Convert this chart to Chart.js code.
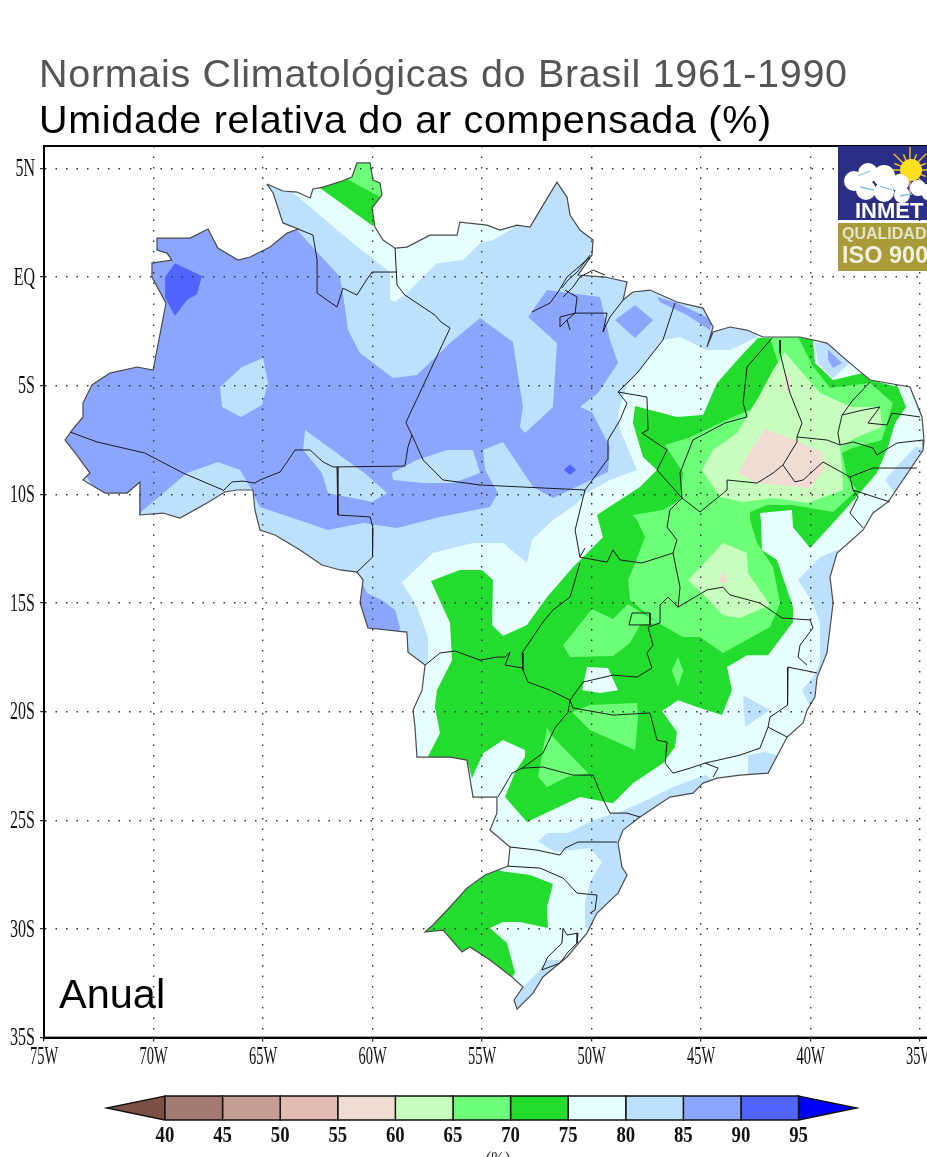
<!DOCTYPE html>
<html><head><meta charset="utf-8">
<style>html,body{margin:0;padding:0;background:#fff;width:927px;height:1157px;overflow:hidden}
canvas{position:absolute;left:0;filter:blur(0.45px)}</style>
<script src="https://cdn.jsdelivr.net/npm/chart.js@4"></script>
</head><body>
<canvas id="map" width="940" height="1157" style="top:0"></canvas>
<canvas id="bar" width="927" height="67" style="top:1090px"></canvas>
<script>
const titleMain='Normais Climatológicas do Brasil 1961-1990';
const titleSub='Umidade relativa do ar compensada (%)';
const periodLabel='Anual';
const unitLabel='(%)';
const lonTickLabels={'-75':'75W','-70':'70W','-65':'65W','-60':'60W','-55':'55W','-50':'50W','-45':'45W','-40':'40W','-35':'35W'};
const latTickLabels={'5':'5N','0':'EQ','-5':'5S','-10':'10S','-15':'15S','-20':'20S','-25':'25S','-30':'30S','-35':'35S'};
const levels=[40,45,50,55,60,65,70,75,80,85,90,95];
const levelColors=['#a37b72','#c59d93','#e0bcb2','#f0dcd2','#c8ffbe','#6eff78','#23dc2d','#e6ffff','#bee0ff','#8ca5ff','#5064ff'];
const underColor='#7d5046', overColor='#0000ff';

const brazil=[[-64.82,4.28],[-64.09,3.96],[-63.45,3.91],[-62.85,3.64],[-62.72,4.05],[-62.26,4.14],[-61.39,4.42],[-60.94,4.60],[-60.71,5.25],[-60.11,5.25],[-59.98,4.46],[-59.66,4.33],[-59.57,3.77],[-60.02,3.18],[-59.89,2.30],[-59.52,1.70],[-58.97,1.33],[-58.43,1.38],[-57.38,1.93],[-56.14,1.93],[-56.01,2.53],[-54.77,2.39],[-54.18,2.16],[-53.40,2.39],[-52.81,2.30],[-52.35,3.08],[-51.58,4.37],[-51.12,3.68],[-50.98,2.85],[-50.53,2.16],[-49.93,1.70],[-49.98,1.01],[-50.62,0.09],[-49.38,0],[-48.38,-0.23],[-48.56,-1.06],[-48.11,-0.69],[-47.33,-0.60],[-46.10,-1.15],[-44.91,-1.43],[-44.45,-2.30],[-44.73,-3.22],[-44.45,-2.53],[-43.68,-2.30],[-42.90,-2.44],[-42.17,-2.76],[-40.48,-2.76],[-39.25,-3.04],[-38.20,-3.96],[-37.28,-4.74],[-35.46,-5.06],[-34.91,-6.44],[-34.82,-7.50],[-34.86,-7.96],[-35.78,-9.34],[-36.46,-10.35],[-37.15,-10.86],[-37.60,-11.64],[-38.79,-12.70],[-39.11,-13.81],[-38.97,-15.00],[-39.25,-17.30],[-39.70,-18.41],[-39.80,-19.33],[-40.16,-19.93],[-40.34,-20.52],[-41.07,-21.17],[-41.94,-22.83],[-43.22,-22.92],[-44.27,-23.06],[-44.91,-23.29],[-45.37,-23.75],[-46.42,-23.93],[-47.79,-24.85],[-48.56,-25.45],[-48.79,-26.05],[-48.61,-27.15],[-48.38,-27.52],[-48.79,-28.35],[-49.75,-29.27],[-50.21,-30.19],[-51.12,-31.29],[-52.22,-32.21],[-52.67,-32.95],[-53.40,-33.69],[-53.54,-33.27],[-53.13,-32.67],[-53.63,-32.21],[-54.64,-31.43],[-55.55,-30.83],[-55.91,-31.06],[-56.78,-30.05],[-57.60,-30.14],[-57.24,-29.82],[-56.46,-28.99],[-55.69,-28.12],[-54.86,-27.52],[-53.81,-27.11],[-53.72,-26.23],[-54.64,-25.45],[-54.32,-24.67],[-54.32,-23.93],[-55.41,-23.93],[-55.69,-22.23],[-56.46,-22.09],[-57.97,-22.09],[-58.06,-20.71],[-58.15,-19.93],[-57.74,-19.01],[-57.60,-17.86],[-58.38,-17.26],[-58.43,-16.34],[-60.21,-16.15],[-60.57,-15.00],[-60.43,-13.94],[-60.71,-13.58],[-61.48,-13.48],[-62.31,-13.25],[-63.31,-12.56],[-64.45,-11.87],[-65.14,-11.64],[-65.37,-10.72],[-65.46,-9.80],[-66.19,-9.80],[-66.74,-9.89],[-67.56,-10.40],[-68.79,-11.09],[-69.57,-10.86],[-70.66,-10.95],[-70.62,-9.43],[-71.21,-9.94],[-72.21,-9.94],[-73.22,-9.34],[-72.90,-9.02],[-73.68,-7.96],[-74.04,-7.50],[-73.72,-7.04],[-73.22,-6.44],[-73.22,-5.80],[-72.81,-4.97],[-71.99,-4.42],[-70.75,-4.14],[-70.02,-4.28],[-69.43,-1.20],[-70.07,0],[-70.07,0.64],[-69.16,0.78],[-69.38,1.10],[-69.84,1.24],[-69.84,1.79],[-68.33,1.79],[-67.51,2.21],[-67.06,1.33],[-66.14,0.78],[-65.59,0.92],[-64.68,1.38],[-63.90,2.02],[-63.40,2.21],[-64.09,2.49],[-64.54,3.87],[-64.82,4.28]];

const band75a=brazil;
const band80Main=[[-64.82,4.92],[-63.77,4.00],[-60.89,1.56],[-59.20,0.23],[-59.20,-1.06],[-58.97,-1.15],[-58.43,-0.74],[-57.06,0.64],[-55.87,0.78],[-55.09,1.56],[-54.50,1.70],[-53.59,2.25],[-53.27,4.92],[-42.31,4.92],[-42.31,-1.98],[-42.44,-2.76],[-43.68,-3.36],[-44.73,-3.36],[-45.96,-2.76],[-46.74,-2.90],[-47.79,-4.28],[-48.38,-4.97],[-48.79,-6.26],[-48.70,-7.04],[-47.92,-8.88],[-49.16,-9.34],[-50.21,-9.94],[-50.75,-10.49],[-51.76,-11.18],[-52.72,-12.10],[-52.95,-13.16],[-54.04,-12.24],[-55.41,-12.24],[-57.24,-12.70],[-58.65,-14.04],[-57.97,-15.19],[-57.47,-16.57],[-57.47,-17.76],[-58.74,-18.55],[-72.44,-18.55],[-75.5,-5.66],[-72.44,4.92]];
const band80East=[[-40.57,-13.94],[-39.89,-15.00],[-39.57,-15.92],[-39.57,-17.76],[-39.89,-18.41],[-40.39,-19.01],[-40.02,-19.79],[-39.11,-20.39],[-37.74,-19.47],[-37.74,-13.02],[-38.79,-12.56],[-39.57,-12.89]];
const band80NE=[[-36.60,-9.34],[-36.01,-8.65],[-35.23,-7.82],[-34.1,-7.96],[-35.91,-10.26]];
const band80Minas=[[-43.08,-19.24],[-41.85,-19.93],[-42.99,-20.71]];
const band80Rio=[[-42.86,-22.00],[-42.08,-21.86],[-41.53,-22.00],[-41.85,-23.38],[-42.86,-23.38]];
const band80South=[[-52.44,-25.96],[-52.03,-25.59],[-51.07,-25.59],[-49.93,-24.99],[-48.70,-24.62],[-47.79,-24.21],[-46.28,-23.47],[-44.82,-22.92],[-44.13,-23.38],[-45.05,-28.67],[-48.70,-30.97],[-50.30,-29.91],[-50.30,-28.81],[-50.07,-27.84],[-49.53,-26.92],[-50.07,-26.28],[-51.67,-26.46]];
const band80RS=[[-52.03,-31.43],[-50.98,-31.43],[-52.35,-34.19],[-53.95,-34.19],[-53.49,-33.04],[-52.44,-31.98]];
const band80Ceara=[[-39.80,-3.04],[-39.25,-3.04],[-38.20,-3.96],[-38.97,-4.65],[-39.66,-3.96]];

const band85Main=[[-63.45,2.16],[-61.48,0],[-61.26,-1.38],[-61.12,-2.44],[-60.57,-3.50],[-59.06,-4.65],[-57.97,-4.51],[-56.46,-3.04],[-55.09,-1.89],[-53.59,-2.99],[-53.13,-5.98],[-53.27,-6.90],[-53.04,-7.18],[-51.76,-5.98],[-51.58,-3.04],[-52.90,-1.84],[-52.03,-0.60],[-49.61,-0.92],[-49.16,-2.90],[-48.79,-3.96],[-49.70,-5.34],[-50.53,-5.98],[-49.98,-6.21],[-49.16,-7.82],[-49.25,-8.97],[-51.76,-10.17],[-52.67,-9.66],[-53.49,-8.42],[-54.04,-7.59],[-54.95,-7.96],[-54.86,-8.88],[-54.27,-9.94],[-54.64,-10.58],[-56.92,-11.04],[-58.88,-11.55],[-60.43,-11.32],[-62.03,-11.64],[-65.14,-10.58],[-65.59,-9.66],[-66.05,-8.88],[-67.06,-8.51],[-68.47,-9.02],[-70.62,-10.86],[-71.53,-11.41],[-75.5,-5.66],[-70.62,2.62]];
const band85Diamond=[[-48.93,-1.98],[-48.01,-1.29],[-47.19,-1.98],[-48.01,-2.81]];
const band85Coast=[[-47.01,-0.92],[-46.10,-1.20],[-44.45,-1.98],[-44.60,-2.44],[-45.65,-1.75],[-46.88,-1.15]];
const band85South=[[-60.71,-13.58],[-60.25,-14.54],[-59.57,-14.86],[-58.97,-15.32],[-58.74,-16.15],[-59.20,-17.17],[-61.48,-16.71],[-61.48,-13.71]];
const band85Ceara=[[-39.20,-3.36],[-38.56,-3.96],[-38.97,-4.19],[-39.20,-3.82]];
const band80HoleA=[[-59.11,-9.02],[-59.06,-9.34],[-57.69,-9.48],[-56.32,-9.48],[-55.09,-9.02],[-55.41,-7.96],[-56.60,-7.96],[-57.97,-8.42]];
const band80HoleB=[[-63.08,-7.04],[-63.17,-7.96],[-62.31,-9.02],[-62.03,-9.94],[-60.02,-10.35],[-59.34,-9.94],[-60.25,-9.11]];
const band80HoleC=[[-66.96,-5.06],[-65.96,-4.14],[-65.00,-3.73],[-64.77,-4.88],[-65.05,-5.89],[-66.00,-6.44],[-66.87,-5.98]];
const band90West=[[-69.02,0.64],[-67.79,0.05],[-68.01,-0.78],[-68.47,-1.06],[-69.02,-1.79],[-69.47,-0.97],[-69.47,0]];
const band90Para=[[-50.98,-8.61],[-50.71,-8.88],[-50.98,-9.11],[-51.26,-8.88]];

const band70Main=[[-42.40,-2.81],[-40.57,-2.76],[-39.89,-2.90],[-39.80,-3.96],[-38.97,-4.74],[-37.60,-4.42],[-37.28,-4.74],[-36.01,-5.06],[-35.64,-5.98],[-36.14,-6.72],[-36.46,-7.82],[-36.97,-9.02],[-37.83,-10.03],[-38.43,-10.72],[-40.02,-12.47],[-40.80,-11.51],[-40.85,-10.72],[-42.31,-10.86],[-42.26,-11.18],[-42.22,-12.56],[-41.53,-13.02],[-40.80,-15.19],[-40.80,-15.88],[-41.94,-17.40],[-42.90,-17.40],[-43.81,-17.95],[-43.59,-19.01],[-44.04,-20.16],[-45.18,-19.79],[-46.05,-19.47],[-46.78,-19.97],[-46.10,-20.94],[-46.19,-21.63],[-46.74,-22.37],[-48.11,-23.29],[-49.02,-24.21],[-50.53,-23.93],[-52.95,-25.08],[-53.95,-23.93],[-53.49,-22.78],[-53.04,-22.09],[-53.04,-21.77],[-54.04,-21.31],[-54.95,-21.91],[-55.46,-23.06],[-55.69,-22.23],[-57.51,-22.14],[-56.92,-20.99],[-57.15,-19.79],[-57.06,-19.01],[-56.37,-17.63],[-56.46,-15.92],[-57.33,-13.99],[-56.01,-13.48],[-55.00,-13.48],[-54.50,-13.94],[-54.54,-16.01],[-54.04,-16.52],[-52.95,-16.01],[-52.03,-14.73],[-50.85,-13.35],[-49.48,-11.97],[-49.75,-10.95],[-47.79,-9.66],[-47.01,-8.88],[-47.65,-8.28],[-48.11,-6.72],[-48.01,-5.94],[-46.10,-6.44],[-44.91,-6.35],[-44.27,-4.88],[-43.22,-3.68]];
const band75Hole=[[-50.21,-17.95],[-49.25,-17.99],[-48.79,-19.01],[-49.61,-19.14],[-50.43,-19.01],[-50.30,-18.41]];
const band70RS=[[-54.09,-27.34],[-52.81,-27.52],[-51.76,-27.93],[-52.03,-28.99],[-51.99,-29.96],[-53.27,-29.68],[-54.04,-29.68],[-54.64,-29.96],[-53.86,-30.65],[-53.49,-32.03],[-53.95,-32.58],[-58.29,-30.97],[-58.29,-29.59],[-55.09,-27.06]];
const band70RR=[[-62.40,4.10],[-59.98,2.35],[-58.97,3.54],[-59.20,5.84],[-61.48,5.84],[-62.85,4.46]];
const band65RR=[[-61.26,4.56],[-59.66,3.68],[-58.97,4.92],[-60.34,5.84],[-61.26,5.15]];
const band65Main=[[-41.85,-2.81],[-40.57,-2.76],[-39.93,-4.05],[-39.11,-5.11],[-37.28,-4.88],[-36.24,-5.80],[-36.74,-7.50],[-38.11,-7.87],[-38.56,-8.10],[-38.33,-9.20],[-37.88,-9.80],[-38.97,-10.81],[-40.85,-10.49],[-41.99,-10.49],[-42.76,-10.81],[-42.76,-11.18],[-42.44,-12.24],[-41.71,-13.35],[-41.39,-15.00],[-41.85,-16.11],[-44.00,-17.30],[-45.05,-16.57],[-45.82,-16.57],[-46.96,-15.92],[-48.24,-14.86],[-48.33,-13.94],[-48.01,-13.16],[-47.56,-11.97],[-47.92,-11.18],[-48.11,-10.95],[-46.74,-10.72],[-45.96,-10.26],[-45.82,-9.02],[-46.64,-7.73],[-45.59,-7.41],[-43.54,-6.44],[-42.76,-6.12],[-41.85,-4.74],[-41.49,-3.91]];
const band65Goias=[[-49.98,-15.28],[-49.02,-15.74],[-48.33,-15.05],[-46.96,-15.92],[-47.79,-16.01],[-48.24,-16.84],[-49.02,-17.44],[-50.98,-17.49],[-51.30,-16.94]];
const band65Diamond=[[-46.05,-17.49],[-45.82,-18.09],[-46.05,-18.87],[-46.33,-18.09]];
const band65SP=[[-50.89,-20.02],[-50.07,-19.70],[-47.92,-19.60],[-47.88,-20.25],[-48.01,-21.77],[-50.07,-20.85]];
const band65PR=[[-52.03,-20.75],[-51.76,-21.17],[-50.16,-22.83],[-51.12,-23.01],[-52.03,-23.47],[-52.44,-23.01],[-52.22,-21.77]];
const band60NE=[[-41.17,-3.45],[-40.48,-4.28],[-39.57,-5.34],[-38.11,-5.98],[-36.83,-5.98],[-36.74,-6.90],[-37.88,-7.36],[-38.65,-7.82],[-38.56,-8.88],[-38.52,-9.80],[-40.12,-10.40],[-41.71,-10.17],[-43.08,-10.35],[-44.13,-10.12],[-44.96,-8.88],[-44.45,-7.96],[-43.36,-7.18],[-42.44,-5.66],[-41.71,-4.28]];
const band60Bahia=[[-45.59,-13.94],[-44.00,-12.24],[-42.90,-12.70],[-42.86,-13.62],[-41.85,-15.09],[-43.22,-15.69],[-44.00,-15.55],[-44.73,-14.77]];
const band55NE=[[-42.08,-6.99],[-40.71,-7.50],[-39.43,-8.10],[-39.34,-8.79],[-40.02,-9.71],[-42.44,-9.48],[-43.31,-9.02],[-42.90,-8.28]];
const band55Slim=[[-41.17,-4.42],[-40.94,-4.65],[-40.94,-5.34],[-41.12,-5.34]];
const band55Bahia=[[-44.00,-13.48],[-43.77,-14.08],[-44.22,-14.08]];

const fillBands=[
 [band75a,7],[band80Main,8],[band80East,8],[band80NE,8],[band80Minas,8],[band80Rio,8],[band80South,8],[band80RS,8],[band80Ceara,8],
 [band85Main,9],[band85Diamond,9],[band85Coast,9],[band85South,9],[band85Ceara,9],
 [band80HoleA,8],[band80HoleB,8],[band80HoleC,8],[band90West,10],[band90Para,10],
 [band70Main,6],[band75Hole,7],[band70RS,6],[band70RR,6],[band65RR,5],[band65Main,5],[band65Goias,5],[band65Diamond,5],[band65SP,5],[band65PR,5],
 [band60NE,4],[band60Bahia,4],[band55NE,3],[band55Slim,3],[band55Bahia,3]
];

const stateLines=[
[[-73.81,-7.13],[-72.58,-7.59],[-70.39,-8.10],[-68.65,-9.02],[-66.83,-9.80]],
[[-66.83,-9.85],[-66.42,-9.43],[-65.91,-9.39],[-65.37,-9.48],[-65.14,-9.34],[-64.22,-8.97],[-63.90,-8.51],[-63.54,-7.96],[-62.85,-7.96],[-62.26,-8.51],[-61.80,-8.74],[-58.52,-8.70],[-58.38,-7.82],[-58.20,-7.27],[-58.47,-6.72],[-58.38,-6.49],[-56.46,-2.35],[-56.87,-2.07],[-57.15,-1.75],[-58.52,-0.83],[-58.88,-0.37],[-58.97,1.33]],
[[-58.88,0.23],[-60.02,0.23],[-60.34,-0.23],[-60.71,-0.83],[-61.35,-0.51],[-61.62,-1.38],[-62.53,-0.74],[-62.53,0.78],[-62.72,1.93],[-63.40,2.21]],
[[-61.62,-8.74],[-61.58,-10.95],[-60.11,-11.04],[-59.98,-11.55],[-60.02,-12.10],[-59.98,-12.89],[-60.71,-13.58]],
[[-58.20,-7.27],[-57.69,-8.42],[-56.78,-9.34],[-55.09,-9.57],[-50.30,-9.80]],
[[-50.30,-9.80],[-49.29,-8.42],[-49.25,-7.50],[-48.70,-6.58],[-48.38,-5.80],[-48.79,-5.29],[-47.92,-4.42],[-46.74,-2.90],[-46.19,-1.20]],
[[-48.79,-5.29],[-47.47,-5.52],[-47.42,-7.04],[-47.70,-7.18],[-46.55,-7.96],[-47.01,-8.88],[-45.87,-10.17]],
[[-45.87,-10.17],[-46.42,-10.72],[-46.55,-11.51],[-46.10,-12.10],[-46.28,-12.70],[-45.96,-14.27],[-46.05,-15.19]],
[[-46.28,-12.70],[-47.70,-13.16],[-48.70,-13.02],[-49.02,-12.56],[-49.29,-13.12],[-50.53,-12.89],[-50.30,-12.47]],
[[-50.53,-12.89],[-50.75,-11.64],[-50.30,-9.80]],
[[-45.87,-10.17],[-45.05,-10.81],[-43.81,-9.80],[-43.81,-9.34],[-42.44,-9.48],[-41.71,-9.02],[-41.26,-8.65],[-40.62,-7.59],[-40.62,-7.36]],
[[-41.76,-2.81],[-42.90,-4.14],[-43.08,-5.80],[-42.90,-6.44],[-43.91,-6.72],[-45.37,-7.50],[-45.96,-9.02],[-45.87,-10.17]],
[[-41.39,-2.90],[-41.39,-3.50],[-40.94,-5.34],[-40.39,-6.72],[-40.62,-7.36]],
[[-40.62,-7.36],[-39.25,-7.50],[-38.65,-7.73],[-38.06,-7.59],[-37.15,-7.87],[-36.97,-8.19],[-36.05,-7.64],[-34.86,-7.50]],
[[-37.28,-4.83],[-38.06,-5.66],[-38.56,-6.35],[-37.60,-6.12],[-36.83,-5.98],[-37.38,-6.72],[-36.51,-6.81],[-36.28,-6.26],[-35.00,-6.44]],
[[-38.56,-6.35],[-38.75,-7.18],[-38.65,-7.73]],
[[-41.26,-8.65],[-40.71,-9.43],[-40.34,-9.34],[-39.43,-8.51],[-38.20,-9.20],[-37.15,-8.79],[-35.14,-8.79]],
[[-38.20,-9.20],[-38.06,-9.80],[-36.38,-10.35]],
[[-38.06,-9.80],[-37.83,-10.12],[-38.20,-10.86],[-37.60,-11.55]],
[[-46.05,-15.19],[-44.73,-14.40],[-44.00,-14.27],[-43.68,-14.63],[-42.31,-15.00],[-41.30,-15.69],[-40.02,-15.78],[-39.89,-16.15],[-40.48,-16.94],[-40.57,-17.49],[-40.16,-17.86]],
[[-39.70,-18.22],[-41.03,-17.95],[-41.07,-18.87],[-41.03,-19.70],[-41.85,-20.25],[-41.94,-20.71],[-41.07,-21.17]],
[[-41.94,-20.71],[-42.31,-21.68],[-43.22,-22.00],[-44.82,-22.37],[-45.50,-22.60],[-46.28,-22.83],[-46.64,-22.37],[-46.55,-21.40],[-47.01,-21.31],[-47.33,-20.06],[-49.02,-20.16],[-50.85,-19.83],[-50.98,-19.47]],
[[-44.82,-22.37],[-44.22,-22.60],[-44.45,-23.01]],
[[-50.98,-19.47],[-50.39,-18.64],[-49.02,-18.32],[-47.92,-18.41],[-47.24,-17.99],[-47.47,-17.30],[-47.19,-16.94],[-47.42,-16.11],[-46.87,-15.92],[-46.87,-15.09],[-46.51,-14.73],[-46.05,-15.19]],
[[-48.15,-15.46],[-47.33,-15.46],[-47.33,-16.01],[-48.29,-16.01],[-48.15,-15.46]],
[[-50.53,-13.16],[-50.98,-14.73],[-51.76,-15.32],[-52.22,-15.88],[-53.17,-17.30],[-53.13,-18.09],[-52.90,-18.64],[-51.90,-19.01],[-50.98,-19.47]],
[[-57.60,-17.86],[-56.92,-17.30],[-56.23,-17.21],[-55.09,-17.63],[-54.32,-17.49],[-53.95,-17.49],[-53.72,-17.26],[-53.95,-17.86],[-53.13,-17.99]],
[[-50.98,-19.47],[-51.07,-20.02],[-51.67,-20.75],[-52.22,-21.91],[-53.17,-22.60],[-53.63,-22.83],[-54.27,-23.93]],
[[-53.17,-22.60],[-52.22,-22.55],[-50.85,-22.92],[-49.93,-22.92],[-49.52,-23.93],[-49.16,-24.67],[-48.38,-24.67],[-47.79,-24.85]],
[[-53.72,-26.23],[-52.49,-26.37],[-51.44,-26.60],[-51.21,-26.28],[-50.62,-26.00],[-48.84,-26.00]],
[[-53.81,-27.11],[-52.35,-27.20],[-51.30,-27.66],[-50.66,-28.35],[-49.75,-28.44],[-49.84,-29.13],[-50.07,-29.27]],
[[-51.30,-29.96],[-51.12,-30.28],[-50.62,-30.19],[-50.66,-30.65],[-51.07,-31.06],[-51.44,-31.57],[-52.27,-31.89],[-52.00,-31.29],[-51.35,-30.65],[-51.30,-29.96]],
[[-52.72,-1.61],[-51.90,-1.20],[-51.53,-0.69],[-51.12,0],[-50.07,0.92]],
[[-51.44,-2.30],[-51.44,-1.84],[-50.75,-1.66],[-50.66,-0.92],[-51.21,-0.60]],
[[-50.75,-1.66],[-49.29,-1.66],[-49.48,-2.53],[-49.16,-1.84],[-48.56,-1.06]],
[[-51.36,-0.51],[-51.07,-0.14],[-50.66,0.23],[-50.07,1.01]],
[[-51.30,-0.92],[-50.85,-0.46],[-50.53,0],[-49.93,0.32],[-49.38,0.09]],
[[-51.44,-2.30],[-51.12,-1.98],[-50.98,-2.44]],
[[-51.12,-1.98],[-50.75,-1.66]]
];

const pts=a=>a.map(([x,y])=>({x,y}));
const closed=a=>pts(a.concat([a[0]]));
const mapDatasets=[];
fillBands.forEach(([poly,idx])=>mapDatasets.push({data:closed(poly),showLine:true,fill:'shape',backgroundColor:levelColors[idx],borderColor:levelColors[idx],borderWidth:0,pointRadius:0,tension:0}));
mapDatasets.push({isBorder:true,data:pts(brazil),showLine:true,fill:false,borderColor:'#4a4a4a',borderWidth:1.2,pointRadius:0,tension:0});
stateLines.forEach(l=>mapDatasets.push({isBorder:true,data:pts(l),showLine:true,fill:false,borderColor:'#1c1c1c',borderWidth:1,pointRadius:0,tension:0}));
mapDatasets.forEach((d,i)=>d.order=mapDatasets.length-i);

function stretched(ctx,text,x,y,font,sx,align,color){
  ctx.save();ctx.font=font;ctx.fillStyle=color||'#111';ctx.textAlign=align;ctx.textBaseline='middle';
  ctx.translate(x,y);ctx.scale(sx,1);ctx.fillText(text,0,0);ctx.restore();
}
function drawLogo(ctx){
  ctx.save();
  ctx.fillStyle='#2a2f85';ctx.fillRect(838,146,100,74);
  ctx.fillStyle='#a99a3a';ctx.fillRect(838,223,100,48);
  ctx.strokeStyle='#e8c030';ctx.lineWidth=1.5;
  for(let i=0;i<16;i++){const a=i*Math.PI/8;ctx.beginPath();ctx.moveTo(910+10*Math.cos(a),170+10*Math.sin(a));ctx.lineTo(910+(i%2?17:23)*Math.cos(a),170+(i%2?17:23)*Math.sin(a));ctx.stroke();}
  ctx.fillStyle='#ffdf20';ctx.beginPath();ctx.arc(911,170,11,0,7);ctx.fill();
  ctx.fillStyle='#fff';
  [[854,181,10],[868,173,10],[884,176,11],[900,183,9],[866,190,10],[884,192,10],[902,195,8],[918,188,8],[930,192,9]].forEach(c=>{ctx.beginPath();ctx.arc(c[0],c[1],c[2],0,7);ctx.fill();});
  ctx.strokeStyle='#7cc4e0';ctx.lineWidth=1.3;
  [[858,176,870,171],[860,187,874,190],[880,186,892,190],[900,196,912,194]].forEach(s=>{ctx.beginPath();ctx.moveTo(s[0],s[1]);ctx.lineTo(s[2],s[3]);ctx.stroke();});
  ctx.textBaseline='alphabetic';ctx.textAlign='left';
  ctx.fillStyle='#fff';ctx.font='bold 22px "Liberation Sans"';ctx.fillText('INMET',855,218);
  ctx.fillStyle='#e6e4c8';ctx.font='bold 16px "Liberation Sans"';ctx.fillText('QUALIDADE',842,239);
  ctx.fillStyle='#f2f0dc';ctx.font='bold 23.5px "Liberation Sans"';ctx.fillText('ISO 9001',842,263);
  ctx.restore();
}
const clipPlugin={
  id:'clipBrazil',
  beforeDatasetsDraw(chart){
    const c=chart.ctx,xs=chart.scales.x,ys=chart.scales.y;
    c.save();c.beginPath();
    brazil.forEach(([x,y],i)=>{const px=xs.getPixelForValue(x),py=ys.getPixelForValue(y);i?c.lineTo(px,py):c.moveTo(px,py);});
    c.closePath();c.clip();chart.$clipOn=true;
  },
  beforeDatasetDraw(chart,args){
    if(chart.$clipOn&&chart.data.datasets[args.index].isBorder){chart.ctx.restore();chart.$clipOn=false;}
  },
  afterDraw(chart){
    const c=chart.ctx,a=chart.chartArea;
    c.save();c.strokeStyle='#000';c.lineWidth=2;c.strokeRect(a.left,a.top,a.right-a.left,a.bottom-a.top);c.restore();
    const xs=chart.scales.x,ys=chart.scales.y;
    const font='25px "Liberation Serif"';
    xs.ticks.forEach((t,i)=>stretched(c,t.label,xs.getPixelForTick(i),1057,font,0.58,'center'));
    ys.ticks.forEach((t,i)=>stretched(c,t.label,35,ys.getPixelForTick(i)+1,font,0.64,'right'));
    drawLogo(c);
    c.save();c.textBaseline='alphabetic';c.textAlign='left';
    c.font='39.5px "Liberation Sans"';c.fillStyle='#555';c.letterSpacing='0.7px';c.fillText(titleMain,39,87);
    c.font='39.5px "Liberation Sans"';c.fillStyle='#000';c.letterSpacing='0.7px';c.fillText(titleSub,39,133);
    c.letterSpacing='0px';c.font='41.5px "Liberation Sans"';c.fillStyle='#000';c.fillText(periodLabel,59,1008);
    c.restore();
  }
};
new Chart(document.getElementById('map'),{
  type:'scatter',
  data:{datasets:mapDatasets},
  options:{
    responsive:false,animation:false,devicePixelRatio:1,events:[],
    layout:{padding:{left:0,top:146,right:9,bottom:0}},
    plugins:{legend:{display:false},tooltip:{enabled:false},title:{display:false}},
    scales:{
      x:{type:'linear',min:-75,max:-34.5,afterFit:s=>{s.height=119.4;},
         ticks:{display:false,stepSize:5,includeBounds:false,autoSkip:false,callback:v=>lonTickLabels[v]||''},
         grid:{color:'#333',lineWidth:1.4,z:1,tickLength:4,tickColor:'#000',tickBorderDash:[],tickWidth:1},
         border:{display:true,z:2,color:'#000',width:2,dash:[1.5,9]}},
      y:{type:'linear',min:-35,max:6.03,afterFit:s=>{s.width=44;},
         ticks:{display:false,stepSize:5,includeBounds:false,autoSkip:false,callback:v=>latTickLabels[v]||''},
         grid:{color:'#333',lineWidth:1.4,z:1,tickLength:4,tickColor:'#000',tickBorderDash:[],tickWidth:1},
         border:{display:true,z:2,color:'#000',width:2,dash:[1.5,9]}}
    }
  },
  plugins:[clipPlugin]
});

const barDatasets=[];
const cell=(a,b,c)=>({data:closed([[a,0],[b,0],[b,1],[a,1]]),showLine:true,fill:'shape',backgroundColor:c,borderColor:'#111',borderWidth:1.4,pointRadius:0,tension:0});
levelColors.forEach((c,i)=>barDatasets.push(cell(levels[i],levels[i+1],c)));
const tipSpan=5.05;
barDatasets.push({data:closed([[levels[0],0],[levels[0],1],[levels[0]-tipSpan,0.5]]),showLine:true,fill:'shape',backgroundColor:underColor,borderColor:'#111',borderWidth:1.4,pointRadius:0,tension:0});
barDatasets.push({data:closed([[levels[11],0],[levels[11],1],[levels[11]+tipSpan,0.5]]),showLine:true,fill:'shape',backgroundColor:overColor,borderColor:'#111',borderWidth:1.4,pointRadius:0,tension:0});
new Chart(document.getElementById('bar'),{
  type:'scatter',
  data:{datasets:barDatasets},
  options:{
    responsive:false,animation:false,devicePixelRatio:1,events:[],
    layout:{padding:0},
    plugins:{legend:{display:false},tooltip:{enabled:false}},
    scales:{
      x:{type:'linear',min:25.68,max:106.15,afterFit:s=>{s.height=0;},afterBuildTicks:s=>{s.ticks=levels.map(v=>({value:v}));},
         ticks:{display:false,autoSkip:false,callback:v=>String(v)},grid:{display:false},border:{display:false}},
      y:{type:'linear',min:-1.54,max:1.25,afterFit:s=>{s.width=0;},
         ticks:{display:false},grid:{display:false},border:{display:false}}
    }
  },
  plugins:[{id:'barText',afterDraw(chart){
    const c=chart.ctx,xs=chart.scales.x;
    xs.ticks.forEach((t,i)=>stretched(c,t.label,xs.getPixelForTick(i),46,'bold 24px "Liberation Serif"',0.78,'center'));
    c.save();c.font='16px "Liberation Serif"';c.textAlign='center';c.textBaseline='top';c.fillStyle='#222';c.fillText(unitLabel,498,61);c.restore();
  }}]
});
</script>
</body></html>
